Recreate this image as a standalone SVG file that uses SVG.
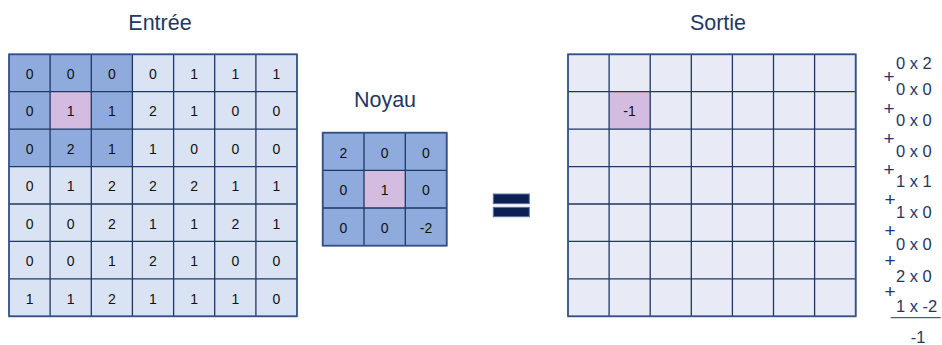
<svg xmlns="http://www.w3.org/2000/svg" width="942" height="345" viewBox="0 0 942 345">
<style>
.title{font-family:"Liberation Sans",Arial,sans-serif;font-size:21.5px;fill:#1F3864;text-anchor:middle}
.cell{font-family:"Liberation Sans",Arial,sans-serif;font-size:14px;fill:#111;text-anchor:middle}
.eq{font-family:"Liberation Sans",Arial,sans-serif;font-size:16.5px;fill:#1F3864}
.plus{font-family:"Liberation Sans",Arial,sans-serif;font-size:19px;fill:#1F3864;text-anchor:middle}
.grid{fill:none;stroke:#1F3864;stroke-width:1.3}
.border{fill:none;stroke:#3A5690;stroke-width:2;stroke-opacity:0.75}
.light{fill:#DAE3F3}
.dark{fill:#8FAADC}
.pink{fill:#D3BCDF}
.out{fill:#E8EBF5}
</style>
<rect width="942" height="345" fill="#ffffff"/>

<g id="entree">
<text class="title" x="160" y="30">Entrée</text>
<rect class="light" x="9" y="54.3" width="288" height="262"/>
<rect class="dark" x="9" y="54.3" width="123.4" height="112.3"/>
<rect class="pink" x="50.1" y="91.7" width="41.2" height="37.5"/>
<path class="grid" d="M9 54.3V316.3M50.1 54.3V316.3M91.3 54.3V316.3M132.4 54.3V316.3M173.6 54.3V316.3M214.7 54.3V316.3M255.9 54.3V316.3M297 54.3V316.3M9 54.3H297M9 91.7H297M9 129.2H297M9 166.6H297M9 204H297M9 241.4H297M9 278.9H297M9 316.3H297"/>
<rect class="border" x="9" y="54.3" width="288" height="262"/>
<g class="cell">
<text x="29.6" y="79">0</text><text x="70.7" y="79">0</text><text x="111.8" y="79">0</text><text x="153" y="79">0</text><text x="194.1" y="79">1</text><text x="235.3" y="79">1</text><text x="276.4" y="79">1</text>
<text x="29.6" y="116.4">0</text><text x="70.7" y="116.4">1</text><text x="111.8" y="116.4">1</text><text x="153" y="116.4">2</text><text x="194.1" y="116.4">1</text><text x="235.3" y="116.4">0</text><text x="276.4" y="116.4">0</text>
<text x="29.6" y="153.9">0</text><text x="70.7" y="153.9">2</text><text x="111.8" y="153.9">1</text><text x="153" y="153.9">1</text><text x="194.1" y="153.9">0</text><text x="235.3" y="153.9">0</text><text x="276.4" y="153.9">0</text>
<text x="29.6" y="191.3">0</text><text x="70.7" y="191.3">1</text><text x="111.8" y="191.3">2</text><text x="153" y="191.3">2</text><text x="194.1" y="191.3">2</text><text x="235.3" y="191.3">1</text><text x="276.4" y="191.3">1</text>
<text x="29.6" y="228.7">0</text><text x="70.7" y="228.7">0</text><text x="111.8" y="228.7">2</text><text x="153" y="228.7">1</text><text x="194.1" y="228.7">1</text><text x="235.3" y="228.7">2</text><text x="276.4" y="228.7">1</text>
<text x="29.6" y="266.1">0</text><text x="70.7" y="266.1">0</text><text x="111.8" y="266.1">1</text><text x="153" y="266.1">2</text><text x="194.1" y="266.1">1</text><text x="235.3" y="266.1">0</text><text x="276.4" y="266.1">0</text>
<text x="29.6" y="303.6">1</text><text x="70.7" y="303.6">1</text><text x="111.8" y="303.6">2</text><text x="153" y="303.6">1</text><text x="194.1" y="303.6">1</text><text x="235.3" y="303.6">1</text><text x="276.4" y="303.6">0</text>
</g>
</g>

<g id="noyau">
<text class="title" x="385" y="107">Noyau</text>
<rect class="dark" x="322.7" y="132.7" width="124" height="113"/>
<rect class="pink" x="364" y="170.4" width="41.3" height="37.6"/>
<path class="grid" d="M322.7 132.7V245.7M364 132.7V245.7M405.3 132.7V245.7M446.7 132.7V245.7M322.7 132.7H446.7M322.7 170.4H446.7M322.7 208H446.7M322.7 245.7H446.7"/>
<rect class="border" x="322.7" y="132.7" width="124" height="113"/>
<g class="cell">
<text x="343.3" y="157.7">2</text><text x="384.6" y="157.7">0</text><text x="426" y="157.7">0</text>
<text x="343.3" y="195.3">0</text><text x="384.6" y="195.3">1</text><text x="426" y="195.3">0</text>
<text x="343.3" y="232.9">0</text><text x="384.6" y="232.9">0</text><text x="426" y="232.9">-2</text>
</g>
</g>

<g id="egal">
<rect x="493.3" y="194" width="36" height="9.7" fill="#0C2152" stroke="#5A73A8" stroke-width="1"/>
<rect x="493.3" y="207.3" width="36" height="9.4" fill="#0C2152" stroke="#5A73A8" stroke-width="1"/>
</g>

<g id="sortie">
<text class="title" x="718" y="30">Sortie</text>
<rect class="out" x="568" y="54.3" width="287.7" height="262"/>
<rect class="pink" x="609.1" y="91.7" width="41.1" height="37.5"/>
<path class="grid" d="M568 54.3V316.3M609.1 54.3V316.3M650.2 54.3V316.3M691.3 54.3V316.3M732.4 54.3V316.3M773.5 54.3V316.3M814.6 54.3V316.3M855.7 54.3V316.3M568 54.3H855.7M568 91.7H855.7M568 129.2H855.7M568 166.6H855.7M568 204H855.7M568 241.4H855.7M568 278.9H855.7M568 316.3H855.7"/>
<rect class="border" x="568" y="54.3" width="287.7" height="262"/>
<text class="cell" x="629.6" y="116.4">-1</text>
</g>

<g id="calcul">
<text class="eq" x="896" y="69.3">0 x 2</text>
<text class="eq" x="896" y="95">0 x 0</text>
<text class="eq" x="896" y="126">0 x 0</text>
<text class="eq" x="896" y="156.7">0 x 0</text>
<text class="eq" x="896" y="186.7">1 x 1</text>
<text class="eq" x="896" y="218.3">1 x 0</text>
<text class="eq" x="896" y="250">0 x 0</text>
<text class="eq" x="896" y="281.7">2 x 0</text>
<text class="eq" x="896" y="311.7">1 x -2</text>
<text class="plus" x="889" y="83.4">+</text>
<text class="plus" x="889" y="115">+</text>
<text class="plus" x="889" y="145">+</text>
<text class="plus" x="889" y="176">+</text>
<text class="plus" x="890" y="206">+</text>
<text class="plus" x="890" y="237.4">+</text>
<text class="plus" x="890" y="267.4">+</text>
<text class="plus" x="890" y="298.4">+</text>
<line x1="890.7" y1="317.7" x2="940.7" y2="317.7" stroke="#1F3864" stroke-width="1"/>
<text class="eq" x="918" y="343" text-anchor="middle">-1</text>
</g>
</svg>
